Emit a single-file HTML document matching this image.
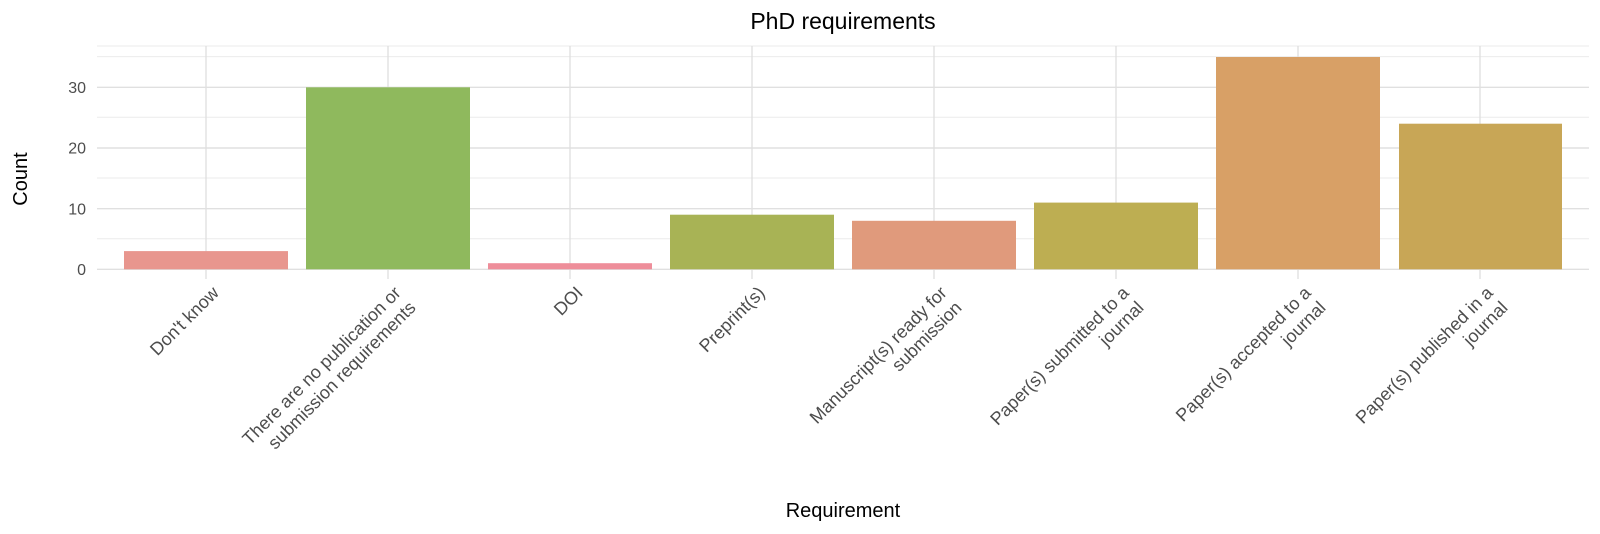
<!DOCTYPE html>
<html><head><meta charset="utf-8"><style>body{margin:0;background:#fff}svg{display:block}text{font-family:"Liberation Sans",sans-serif}</style></head>
<body>
<svg width="1600" height="534" viewBox="0 0 1600 534" xmlns="http://www.w3.org/2000/svg">
<g stroke="#ebebeb" stroke-width="1">
<line x1="97" x2="1589" y1="46" y2="46"/>
<line x1="97" x2="1589" y1="238.7" y2="238.7"/>
<line x1="97" x2="1589" y1="178" y2="178"/>
<line x1="97" x2="1589" y1="117.3" y2="117.3"/>
<line x1="97" x2="1589" y1="56.6" y2="56.6"/>
</g>
<g stroke="#e0e0e0" stroke-width="1.4">
<line x1="97" x2="1589" y1="269.3" y2="269.3"/>
<line x1="97" x2="1589" y1="208.7" y2="208.7"/>
<line x1="97" x2="1589" y1="148" y2="148"/>
<line x1="97" x2="1589" y1="87.3" y2="87.3"/>
<line x1="206" x2="206" y1="46" y2="279"/>
<line x1="388" x2="388" y1="46" y2="279"/>
<line x1="570" x2="570" y1="46" y2="279"/>
<line x1="752" x2="752" y1="46" y2="279"/>
<line x1="934" x2="934" y1="46" y2="279"/>
<line x1="1116" x2="1116" y1="46" y2="279"/>
<line x1="1298" x2="1298" y1="46" y2="279"/>
<line x1="1480" x2="1480" y1="46" y2="279"/>
</g>
<g>
<rect x="124" width="164" y="251.1" height="18.2" fill="#E8968E"/>
<rect x="306" width="164" y="87.3" height="182" fill="#8FB95D"/>
<rect x="488" width="164" y="263.2" height="6.1" fill="#EE8E9A"/>
<rect x="670" width="164" y="214.7" height="54.6" fill="#A8B355"/>
<rect x="852" width="164" y="220.8" height="48.5" fill="#E09A7C"/>
<rect x="1034" width="164" y="202.6" height="66.7" fill="#BDAE52"/>
<rect x="1216" width="164" y="57" height="212.3" fill="#D8A066"/>
<rect x="1399" width="163" y="123.7" height="145.6" fill="#C8A656"/>
</g>
<g font-size="16" fill="#4d4d4d" text-anchor="end">
<text x="86" y="275">0</text>
<text x="86" y="214.5">10</text>
<text x="86" y="153.5">20</text>
<text x="86" y="93">30</text>
</g>
<g font-size="18" fill="#4d4d4d" text-anchor="end">
<g transform="translate(210,284) rotate(-45)"><text x="0" y="14">Don't know</text></g>
<g transform="translate(392,284) rotate(-45)"><text x="0" y="14">There are no publication or</text><text x="0" y="35">submission requirements</text></g>
<g transform="translate(574,284) rotate(-45)"><text x="0" y="14">DOI</text></g>
<g transform="translate(756,284) rotate(-45)"><text x="0" y="14">Preprint(s)</text></g>
<g transform="translate(938,284) rotate(-45)"><text x="0" y="14">Manuscript(s) ready for</text><text x="0" y="35">submission</text></g>
<g transform="translate(1120,284) rotate(-45)"><text x="0" y="14">Paper(s) submitted to a</text><text x="0" y="35">journal</text></g>
<g transform="translate(1302,284) rotate(-45)"><text x="0" y="14">Paper(s) accepted to a</text><text x="0" y="35">journal</text></g>
<g transform="translate(1484,284) rotate(-45)"><text x="0" y="14">Paper(s) published in a</text><text x="0" y="35">journal</text></g>
</g>
<text x="843" y="29" font-size="23" text-anchor="middle" fill="#000">PhD requirements</text>
<text x="843" y="517" font-size="20" text-anchor="middle" fill="#000">Requirement</text>
<text transform="translate(27,179) rotate(-90)" font-size="20" text-anchor="middle" fill="#000">Count</text>
</svg>
</body></html>
